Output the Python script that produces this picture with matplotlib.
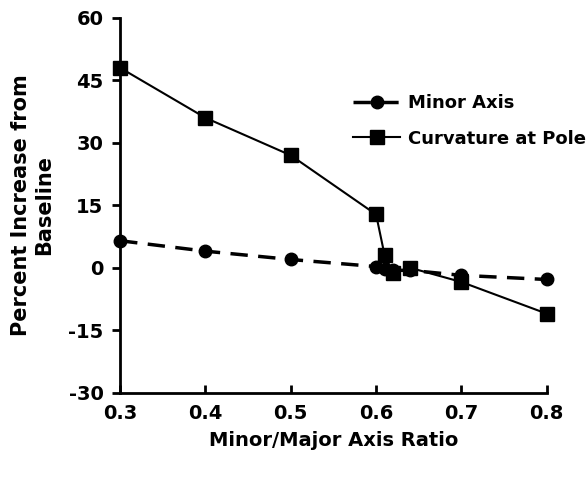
import matplotlib
matplotlib.use('Agg')
import matplotlib.pyplot as plt

# data
ratio = [0.3, 0.4, 0.5, 0.6, 0.61, 0.62, 0.64, 0.7, 0.8]
minor_axis = [6.5, 4.0, 2.0, 0.3, -0.2, -0.6, -0.6, -1.8, -2.8]
curvature = [48, 36, 27, 12.8, 3.0, -1.2, 0.0, -3.4, -11.0]

yticks = [-30, -15, 0, 15, 30, 45, 60]
xticks = [0.3, 0.4, 0.5, 0.6, 0.7, 0.8]

plt.rcParams['font.family'] = ['DejaVu Sans']
plt.rcParams['font.weight'] = 'bold'
plt.rcParams['axes.unicode_minus'] = False

fig = plt.figure(figsize=(5.86, 4.82), dpi=100)
ax = fig.add_axes([0.205, 0.185, 0.728, 0.778])

ax.plot(ratio, minor_axis, color='black', linestyle=(0, (5, 3)), linewidth=2.5,
        marker='o', markersize=9, label='Minor Axis')
ax.plot(ratio, curvature, color='black', linestyle='-', linewidth=1.5,
        marker='s', markersize=10, label='Curvature at Pole')

ax.set_xlim(0.3, 0.8)
ax.set_ylim(-30, 60)
ax.set_xticks(xticks)
ax.set_yticks(yticks)
ax.set_xticklabels([f'{x:.1f}' for x in xticks])

for s in ['top', 'right']:
    ax.spines[s].set_visible(False)
for s in ['left', 'bottom']:
    ax.spines[s].set_linewidth(2)

ax.tick_params(axis='y', direction='out', length=6, width=2, labelsize=14, pad=6)
ax.tick_params(axis='x', direction='in', length=6, width=2, labelsize=14, pad=8)
for lbl in ax.get_xticklabels() + ax.get_yticklabels():
    lbl.set_fontweight('bold')
for l in ax.lines:
    l.set_clip_on(False)

ax.set_xlabel('Minor/Major Axis Ratio', fontsize=14, fontweight='bold', labelpad=6)
ax.set_ylabel('Percent Increase from\nBaseline', fontsize=15, fontweight='bold', labelpad=10)

leg = ax.legend(loc='upper left', bbox_to_anchor=(0.53, 0.815), frameon=False,
                fontsize=13, handlelength=2.6, handletextpad=0.4, labelspacing=0.95,
                borderaxespad=0)
for t in leg.get_texts():
    t.set_fontweight('bold')

plt.savefig('out.png', dpi=100)
